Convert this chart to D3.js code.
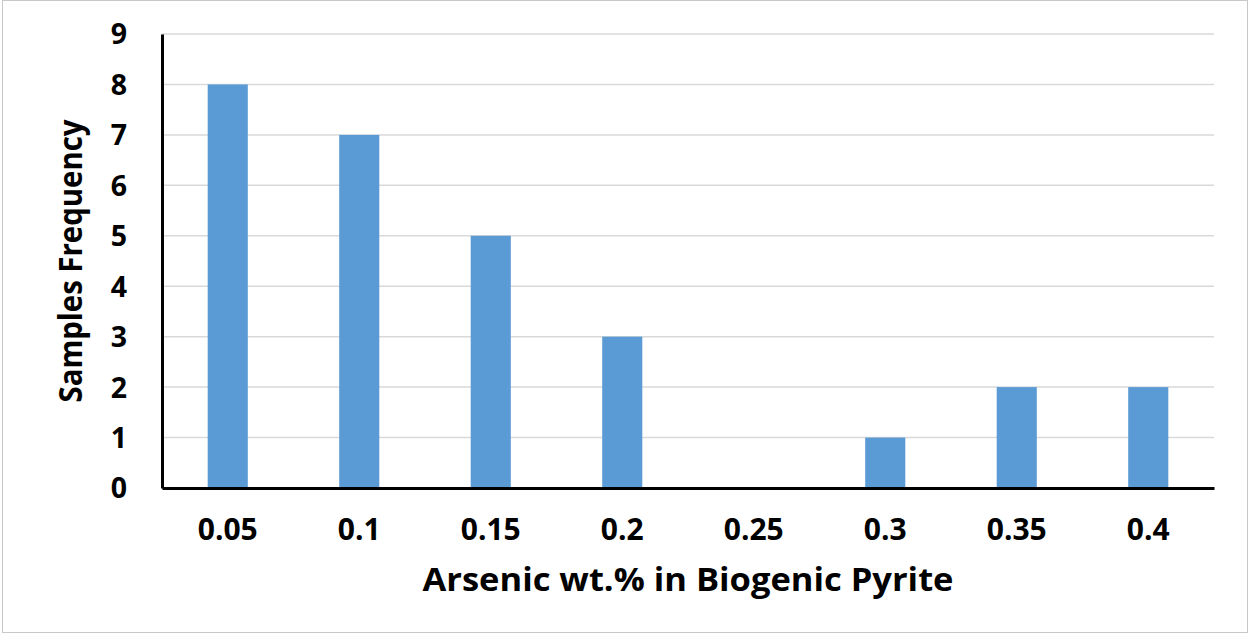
<!DOCTYPE html>
<html>
<head>
<meta charset="utf-8">
<script src="https://cdn.jsdelivr.net/npm/d3@7"></script>
<style>
  html, body { margin: 0; padding: 0; background: #fff; }
  svg { display: block; }
  text { font-family: "Open Sans", "DejaVu Sans", sans-serif; font-weight: 700; fill: #000; }
</style>
</head>
<body>
<svg id="chart" width="1249" height="634"></svg>
<script>
const categories = ["0.05", "0.1", "0.15", "0.2", "0.25", "0.3", "0.35", "0.4"];
const frequency = [8, 7, 5, 3, 0, 1, 2, 2];
const yTicks = [0, 1, 2, 3, 4, 5, 6, 7, 8, 9];
const xTitle = "Arsenic wt.% in Biogenic Pyrite";
const yTitle = "Samples Frequency";

const W = 1249, H = 634;
const margin = { left: 162, right: 35, top: 34, bottom: 146 };
const svg = d3.select("#chart");

svg.append("rect").attr("x", 2.5).attr("y", 0.5).attr("width", W - 4).attr("height", H - 2)
  .attr("fill", "#fff").attr("stroke", "#c8c8c8").attr("stroke-width", 1);

const x = d3.scaleBand().domain(categories)
  .range([margin.left, W - margin.right]).paddingInner(0.695).paddingOuter(0.3475);
const y = d3.scaleLinear().domain([0, 9]).range([H - margin.bottom, margin.top]);

// gridlines
svg.append("g").selectAll("line").data(yTicks.filter(d => d > 0)).join("line")
  .attr("x1", margin.left).attr("x2", W - margin.right)
  .attr("y1", d => y(d)).attr("y2", d => y(d))
  .attr("stroke", "#d9d9d9").attr("stroke-width", 1.5);

// bars
svg.append("g").selectAll("rect").data(categories.map((c, i) => ({ c, v: frequency[i] }))).join("rect")
  .attr("x", d => x(d.c)).attr("width", x.bandwidth())
  .attr("y", d => y(d.v)).attr("height", d => y(0) - y(d.v))
  .attr("fill", "#5b9bd5");

// y axis
const yAxis = svg.append("g").attr("transform", `translate(${margin.left},0)`)
  .call(d3.axisLeft(y).tickValues(yTicks).tickSize(0).tickPadding(35).tickFormat(d3.format("d")));
yAxis.attr("font-size", null).attr("font-family", null);
yAxis.select(".domain").attr("stroke", "#000").attr("stroke-width", 3);
yAxis.selectAll("text").attr("dy", "0.35em")
  .style("font-size", "28.5px").style("font-family", '"Open Sans", sans-serif').style("font-weight", 700);

// x axis
const xAxis = svg.append("g").attr("transform", `translate(0,${y(0)})`)
  .call(d3.axisBottom(x).tickSize(0).tickPadding(31));
xAxis.attr("font-size", null).attr("font-family", null);
xAxis.select(".domain").attr("stroke", "#000").attr("stroke-width", 3);
xAxis.selectAll("text")
  .style("font-size", "30px").style("font-family", '"Open Sans", sans-serif').style("font-weight", 700);

// titles
svg.append("text").attr("x", (margin.left + W - margin.right) / 2).attr("y", 591)
  .attr("text-anchor", "middle").style("font-size", "32px")
  .attr("textLength", 531).attr("lengthAdjust", "spacingAndGlyphs").text(xTitle);
svg.append("text").attr("transform", `translate(82,${(y(0) + y(9)) / 2}) rotate(-90)`)
  .attr("text-anchor", "middle").style("font-size", "32px")
  .attr("textLength", 283).attr("lengthAdjust", "spacingAndGlyphs").text(yTitle);
</script>
</body>
</html>
